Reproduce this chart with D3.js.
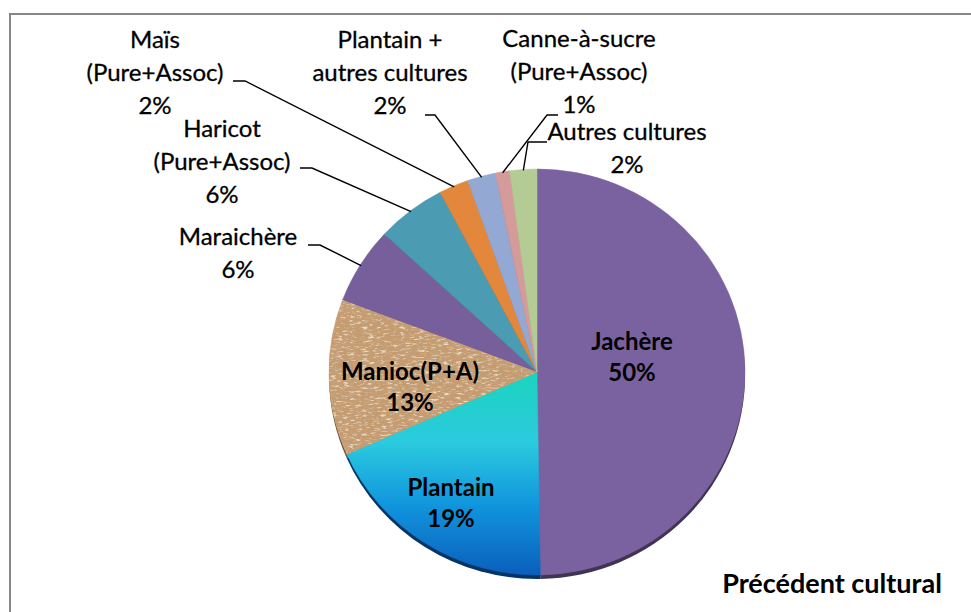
<!DOCTYPE html>
<html><head><meta charset="utf-8">
<script src="https://cdn.jsdelivr.net/npm/d3@7/dist/d3.min.js"></script>
<style>html,body{margin:0;padding:0;background:#fff;}svg{display:block;}</style>
</head><body>
<svg id="chart" width="971" height="612"></svg>
<script>
// ---- data ----
const categories = ["Jachère","Plantain","Manioc(P+A)","Maraichère","Haricot (Pure+Assoc)","Maïs (Pure+Assoc)","Plantain + autres cultures","Canne-à-sucre (Pure+Assoc)","Autres cultures"];
const shares = [49.7, 18.6, 12.4, 6.1, 5.4, 2.3, 2.2, 1.1, 2.1];
const pctLabels = ["50%","19%","13%","6%","6%","2%","2%","1%","2%"];
const labelLines = [["Jachère"],["Plantain"],["Manioc(P+A)"],["Maraichère"],["Haricot","(Pure+Assoc)"],["Maïs","(Pure+Assoc)"],["Plantain +","autres cultures"],["Canne-à-sucre","(Pure+Assoc)"],["Autres cultures"]];
const colors = ["#7A62A0","url(#plantainGrad)","#C99F74","#765F9B","#4B9BB3","#E2873B","#93A9D3","#D59A9A","#B4CB96"];
const baseColors = ["#7A62A0","#0A62BF","#C99F74","#765F9B","#4B9BB3","#E2873B","#93A9D3","#D59A9A","#B4CB96"];
const title = "Précédent cultural";

// ---- layout ----
const cx = 537, cy = 372, R = 208, sy = 203/208;
const font = "Lato, 'Open Sans', sans-serif";
const fs = 24, lh = 33;
const layout = [
  {x:632, y:350, bold:true, inline:true},
  {x:451, y:496, bold:true, inline:true},
  {x:410, y:380, bold:true, inline:true},
  {x:238, y:245, elbow:[320,245], hend:308},
  {x:222, y:137, elbow:[312,168], hend:300},
  {x:155, y:48,  elbow:[245,81],  hend:233},
  {x:390, y:48,  elbow:[435,115], hend:425},
  {x:579, y:47,  elbow:[547,115], hend:558},
  {x:627, y:140, elbow:[528,142], hend:547}
];

const svg = d3.select("#chart");
const defs = svg.append("defs");
const grad = defs.append("linearGradient").attr("id","plantainGrad")
  .attr("gradientUnits","userSpaceOnUse").attr("x1",0).attr("y1",0).attr("x2",0).attr("y2",R);
[[0,"#1CD4BE"],[0.35,"#2BCADF"],[0.65,"#1196DD"],[1,"#0A5FBC"]].forEach(([o,c])=>grad.append("stop").attr("offset",o).attr("stop-color",c));

const f = defs.append("filter").attr("id","cork").attr("x",0).attr("y",0).attr("width",1).attr("height",1)
  .attr("filterUnits","objectBoundingBox");
f.append("feTurbulence").attr("type","fractalNoise").attr("baseFrequency","0.16 0.5").attr("numOctaves",3).attr("seed",11).attr("result","noise");
f.append("feColorMatrix").attr("in","noise").attr("type","matrix")
  .attr("values","0 0 0 0 0.55  0 0 0 0 0.37  0 0 0 0 0.22  4 0 0 0 -2.05").attr("result","dark");
f.append("feColorMatrix").attr("in","noise").attr("type","matrix")
  .attr("values","0 0 0 0 0.86  0 0 0 0 0.72  0 0 0 0 0.55  0 4 0 0 -2.15").attr("result","light");
f.append("feFlood").attr("flood-color","#C59B70").attr("result","base");
f.append("feComposite").attr("in","light").attr("in2","base").attr("operator","over").attr("result","t1");
f.append("feComposite").attr("in","dark").attr("in2","t1").attr("operator","over").attr("result","t2");
f.append("feComposite").attr("in","t2").attr("in2","SourceGraphic").attr("operator","in");

// frame
svg.append("rect").attr("x",10).attr("y",14).attr("width",1200).attr("height",1200)
  .attr("fill","#fff").attr("stroke","#868686").attr("stroke-width",2);

const pie = d3.pie().sort(null).value(d=>d)(shares);
const arc = d3.arc().innerRadius(0).outerRadius(R);

// 3D rim (shadow)
const rimG = svg.append("g").attr("transform",`translate(${cx},${cy+4}) scale(1,${sy})`);
rimG.selectAll("path").data(pie).join("path").attr("d",arc)
  .attr("fill",(d,i)=>d3.color(baseColors[i]).darker(1.8));

const topG = svg.append("g").attr("transform",`translate(${cx},${cy}) scale(1,${sy})`);
topG.selectAll("path.s").data(pie).join("path").attr("class","s").attr("d",arc)
  .attr("fill",(d,i)=>colors[i]).attr("stroke",(d,i)=>colors[i]).attr("stroke-width",0.5);
// cork texture on Manioc
topG.append("path").datum(pie[2]).attr("d",arc).attr("fill","#000").attr("filter","url(#cork)");

// leader lines
const lines = svg.append("g").attr("fill","none").attr("stroke","#000").attr("stroke-width",1.4);
pie.forEach((d,i)=>{
  const L = layout[i];
  if (L.inline) return;
  const a = (d.startAngle+d.endAngle)/2;
  const px = cx + (R-1)*Math.sin(a), py = cy - (R-1)*sy*Math.cos(a);
  lines.append("path").attr("d",d3.line()([[L.hend,L.elbow[1]],L.elbow,[px,py]]));
});

// labels
const lab = svg.append("g").attr("font-family",font).attr("font-size",fs).attr("fill","#000").attr("text-anchor","middle");
layout.forEach((L,i)=>{
  const t = lab.append("text").attr("font-weight",L.bold?"bold":"normal")
    .attr("stroke",L.bold?"none":"#000").attr("stroke-width",0.3);
  const rows = labelLines[i].concat([pctLabels[i]]);
  rows.forEach((r,k)=>t.append("tspan").attr("x",L.x).attr("y",L.y+k*(L.inline?31:lh)).text(r));
});

svg.append("text").attr("x",832).attr("y",593).attr("text-anchor","middle")
  .attr("font-family",font).attr("font-size",27).attr("font-weight","bold").text(title);
</script>
</body></html>
